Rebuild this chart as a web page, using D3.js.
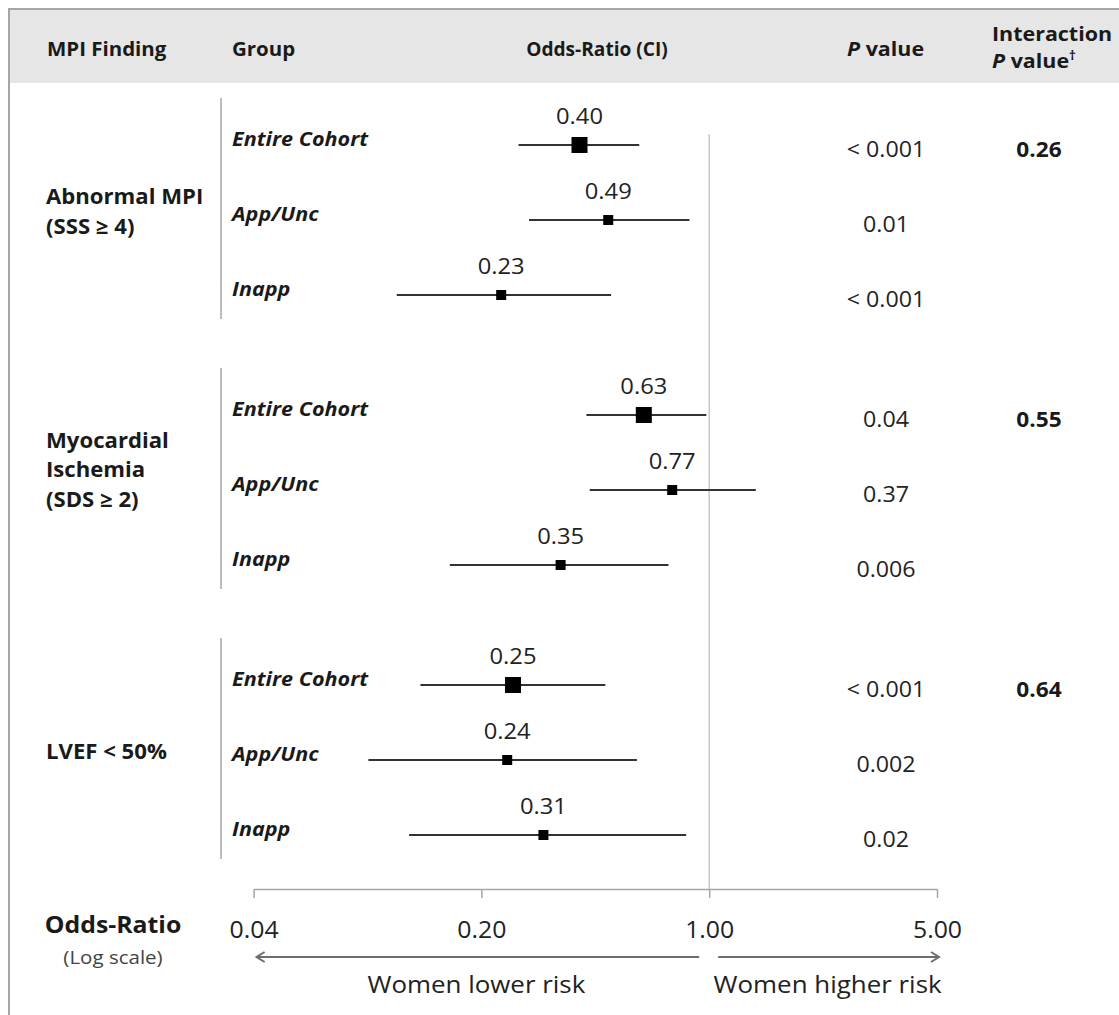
<!DOCTYPE html>
<html>
<head>
<meta charset="utf-8">
<script src="https://cdn.jsdelivr.net/npm/d3@7"></script>
<style>
  body { margin: 0; background: #fff; }
  svg { display: block; font-family: "Open Sans", Lato, sans-serif; }
</style>
</head>
<body>
<svg id="chart" width="1119" height="1015"></svg>
<script>
// chart values
var findings = [["Abnormal MPI", "(SSS \u2265 4)"], ["Myocardial", "Ischemia", "(SDS \u2265 2)"], ["LVEF < 50%"]];
var groups = ["Entire Cohort", "App/Unc", "Inapp"];
var oddsRatio = [0.40, 0.49, 0.23, 0.63, 0.77, 0.35, 0.25, 0.24, 0.31];
var ciLow = [0.26, 0.28, 0.11, 0.42, 0.43, 0.16, 0.13, 0.09, 0.12];
var ciHigh = [0.61, 0.87, 0.50, 0.98, 1.39, 0.75, 0.48, 0.60, 0.85];
var pValues = ["< 0.001", "0.01", "< 0.001", "0.04", "0.37", "0.006", "< 0.001", "0.002", "0.02"];
var interactionP = ["0.26", "0.55", "0.64"];
var tickValues = [0.04, 0.2, 1, 5];
var tickLabels = ["0.04", "0.20", "1.00", "5.00"];

var svg = d3.select("#chart");
var ink = "#1a1a1a", grid = "#a6a6a6";
var SX = 1.08; // the source typeface is wider than Open Sans, stretch a little

var x = d3.scaleLog().domain([0.04, 5]).range([253.6, 937]);
// rows: 3 per finding, with a gap between findings
var y = d3.scaleLinear().domain([0, 1]).range([145, 220]);
function slot(i){ return Math.floor(i / 3) * 3.6 + i % 3; }

var rows = oddsRatio.map(function(v, i){
	return {or: v, lo: ciLow[i], hi: ciHigh[i], p: pValues[i], g: groups[i % 3], first: i % 3 == 0, y: y(slot(i))};
});

// text helper, stretched horizontally around its anchor
function label(parent, px, py, size, sx){
	return parent.append("text")
		.attr("transform", "translate(" + px + "," + py + ") scale(" + (sx || SX) + ",1)")
		.attr("font-size", size).attr("fill", ink);
}

// header band
svg.append("rect").attr("x", 10).attr("y", 10).attr("width", 1109).attr("height", 73).attr("fill", "#e6e6e6");
svg.append("line").attr("x1", 8).attr("x2", 1119).attr("y1", 9).attr("y2", 9).attr("stroke", grid).attr("stroke-width", 2);
svg.append("line").attr("x1", 9).attr("x2", 9).attr("y1", 8).attr("y2", 1015).attr("stroke", grid).attr("stroke-width", 2);

var head = svg.append("g").attr("font-weight", "bold");
label(head, 47, 56, 19.5, 1.05).text("MPI Finding");
label(head, 232, 56, 19.5, 1.05).text("Group");
label(head, 597, 56, 19.5, 0.98).attr("text-anchor", "middle").text("Odds-Ratio (CI)");
var pv = label(head, 847, 56, 19.5, 1.1);
pv.append("tspan").attr("font-style", "italic").text("P");
pv.append("tspan").text(" value");
label(head, 992, 41, 19.5, 1.1).text("Interaction");
var pv2 = label(head, 992, 68, 19.5, 1.1);
pv2.append("tspan").attr("font-style", "italic").text("P");
pv2.append("tspan").text(" value");
pv2.append("tspan").attr("font-size", 12).attr("dy", -8).text("\u2020");

// finding labels and dividers
findings.forEach(function(lines, gi){
	var top = y(slot(gi * 3)), mid = y(slot(gi * 3 + 1)), bot = y(slot(gi * 3 + 2));
	svg.append("line").attr("x1", 221).attr("x2", 221).attr("y1", top - 47).attr("y2", bot + 24)
		.attr("stroke", grid).attr("stroke-width", 1.5);
	lines.forEach(function(s, li){
		var ly = mid - 1 + (li - (lines.length - 1) / 2) * 29.5 - Math.max(0, lines.length - 2) * 12;
		label(svg, 46, ly, 20.5).attr("font-weight", "bold").text(s);
	});
});

// reference line at OR = 1
svg.append("line").attr("x1", x(1)).attr("x2", x(1)).attr("y1", 134).attr("y2", 889)
	.attr("stroke", "#c8c8c8").attr("stroke-width", 1.5);

rows.forEach(function(d){
	var g = svg.append("g").attr("class", "row");
	label(g, 232, d.y + 1, 20).attr("font-weight", "bold").attr("font-style", "italic").text(d.g);
	g.append("line").attr("x1", x(d.lo)).attr("x2", x(d.hi)).attr("y1", d.y).attr("y2", d.y)
		.attr("stroke", "#333").attr("stroke-width", 2);
	var s = d.first ? 16 : 10;
	g.append("rect").attr("x", x(d.or) - s / 2).attr("y", d.y - s / 2).attr("width", s).attr("height", s)
		.attr("fill", "#000");
	label(g, x(d.or), d.y - 21, 22).attr("text-anchor", "middle").attr("fill", "#222")
		.text(d3.format(".2f")(d.or));
	label(g, 886, d.y + 12, 21.5).attr("text-anchor", "middle").attr("fill", "#222").text(d.p);
});

interactionP.forEach(function(d, i){
	label(svg, 1039, y(slot(i * 3)) + 12, 21).attr("text-anchor", "middle").attr("font-weight", "bold").text(d);
});

// axis
var axis = svg.append("g").attr("transform", "translate(0,889)")
	.call(d3.axisBottom(x).tickValues(tickValues).tickFormat(function(d, i){ return tickLabels[i]; })
		.tickSize(9).tickSizeOuter(0));
axis.select(".domain").attr("stroke", grid).attr("stroke-width", 1.5);
axis.selectAll(".tick line").attr("stroke", grid).attr("stroke-width", 1.5);
axis.selectAll(".tick text").attr("y", null).attr("dy", null)
	.attr("transform", "translate(0,49) scale(" + SX + ",1)").attr("font-size", 23)
	.attr("font-family", "'Open Sans', sans-serif").attr("fill", "#222");

label(svg, 113, 933, 23).attr("text-anchor", "middle").attr("font-weight", "bold").text("Odds-Ratio");
label(svg, 113, 964, 19).attr("text-anchor", "middle").attr("fill", "#444").text("(Log scale)");

// direction arrows
var defs = svg.append("defs");
defs.append("marker").attr("id", "head").attr("viewBox", "0 0 12 12").attr("refX", 10).attr("refY", 6)
	.attr("markerWidth", 12).attr("markerHeight", 12).attr("markerUnits", "userSpaceOnUse").attr("orient", "auto")
	.append("path").attr("d", "M2,1 L10,6 L2,11").attr("fill", "none").attr("stroke", "#6e6e6e").attr("stroke-width", 2);
var ay = 957;
svg.append("line").attr("x1", x(1) - 10).attr("x2", x(0.04) + 3).attr("y1", ay).attr("y2", ay)
	.attr("stroke", "#6e6e6e").attr("stroke-width", 2).attr("marker-end", "url(#head)");
svg.append("line").attr("x1", x(1) + 9).attr("x2", x(5) + 2).attr("y1", ay).attr("y2", ay)
	.attr("stroke", "#6e6e6e").attr("stroke-width", 2).attr("marker-end", "url(#head)");
label(svg, (x(1) - 10 + x(0.04)) / 2, 993, 24).attr("text-anchor", "middle").attr("fill", "#222").text("Women lower risk");
label(svg, (x(1) + 9 + x(5)) / 2, 993, 24).attr("text-anchor", "middle").attr("fill", "#222").text("Women higher risk");
</script>
</body>
</html>
